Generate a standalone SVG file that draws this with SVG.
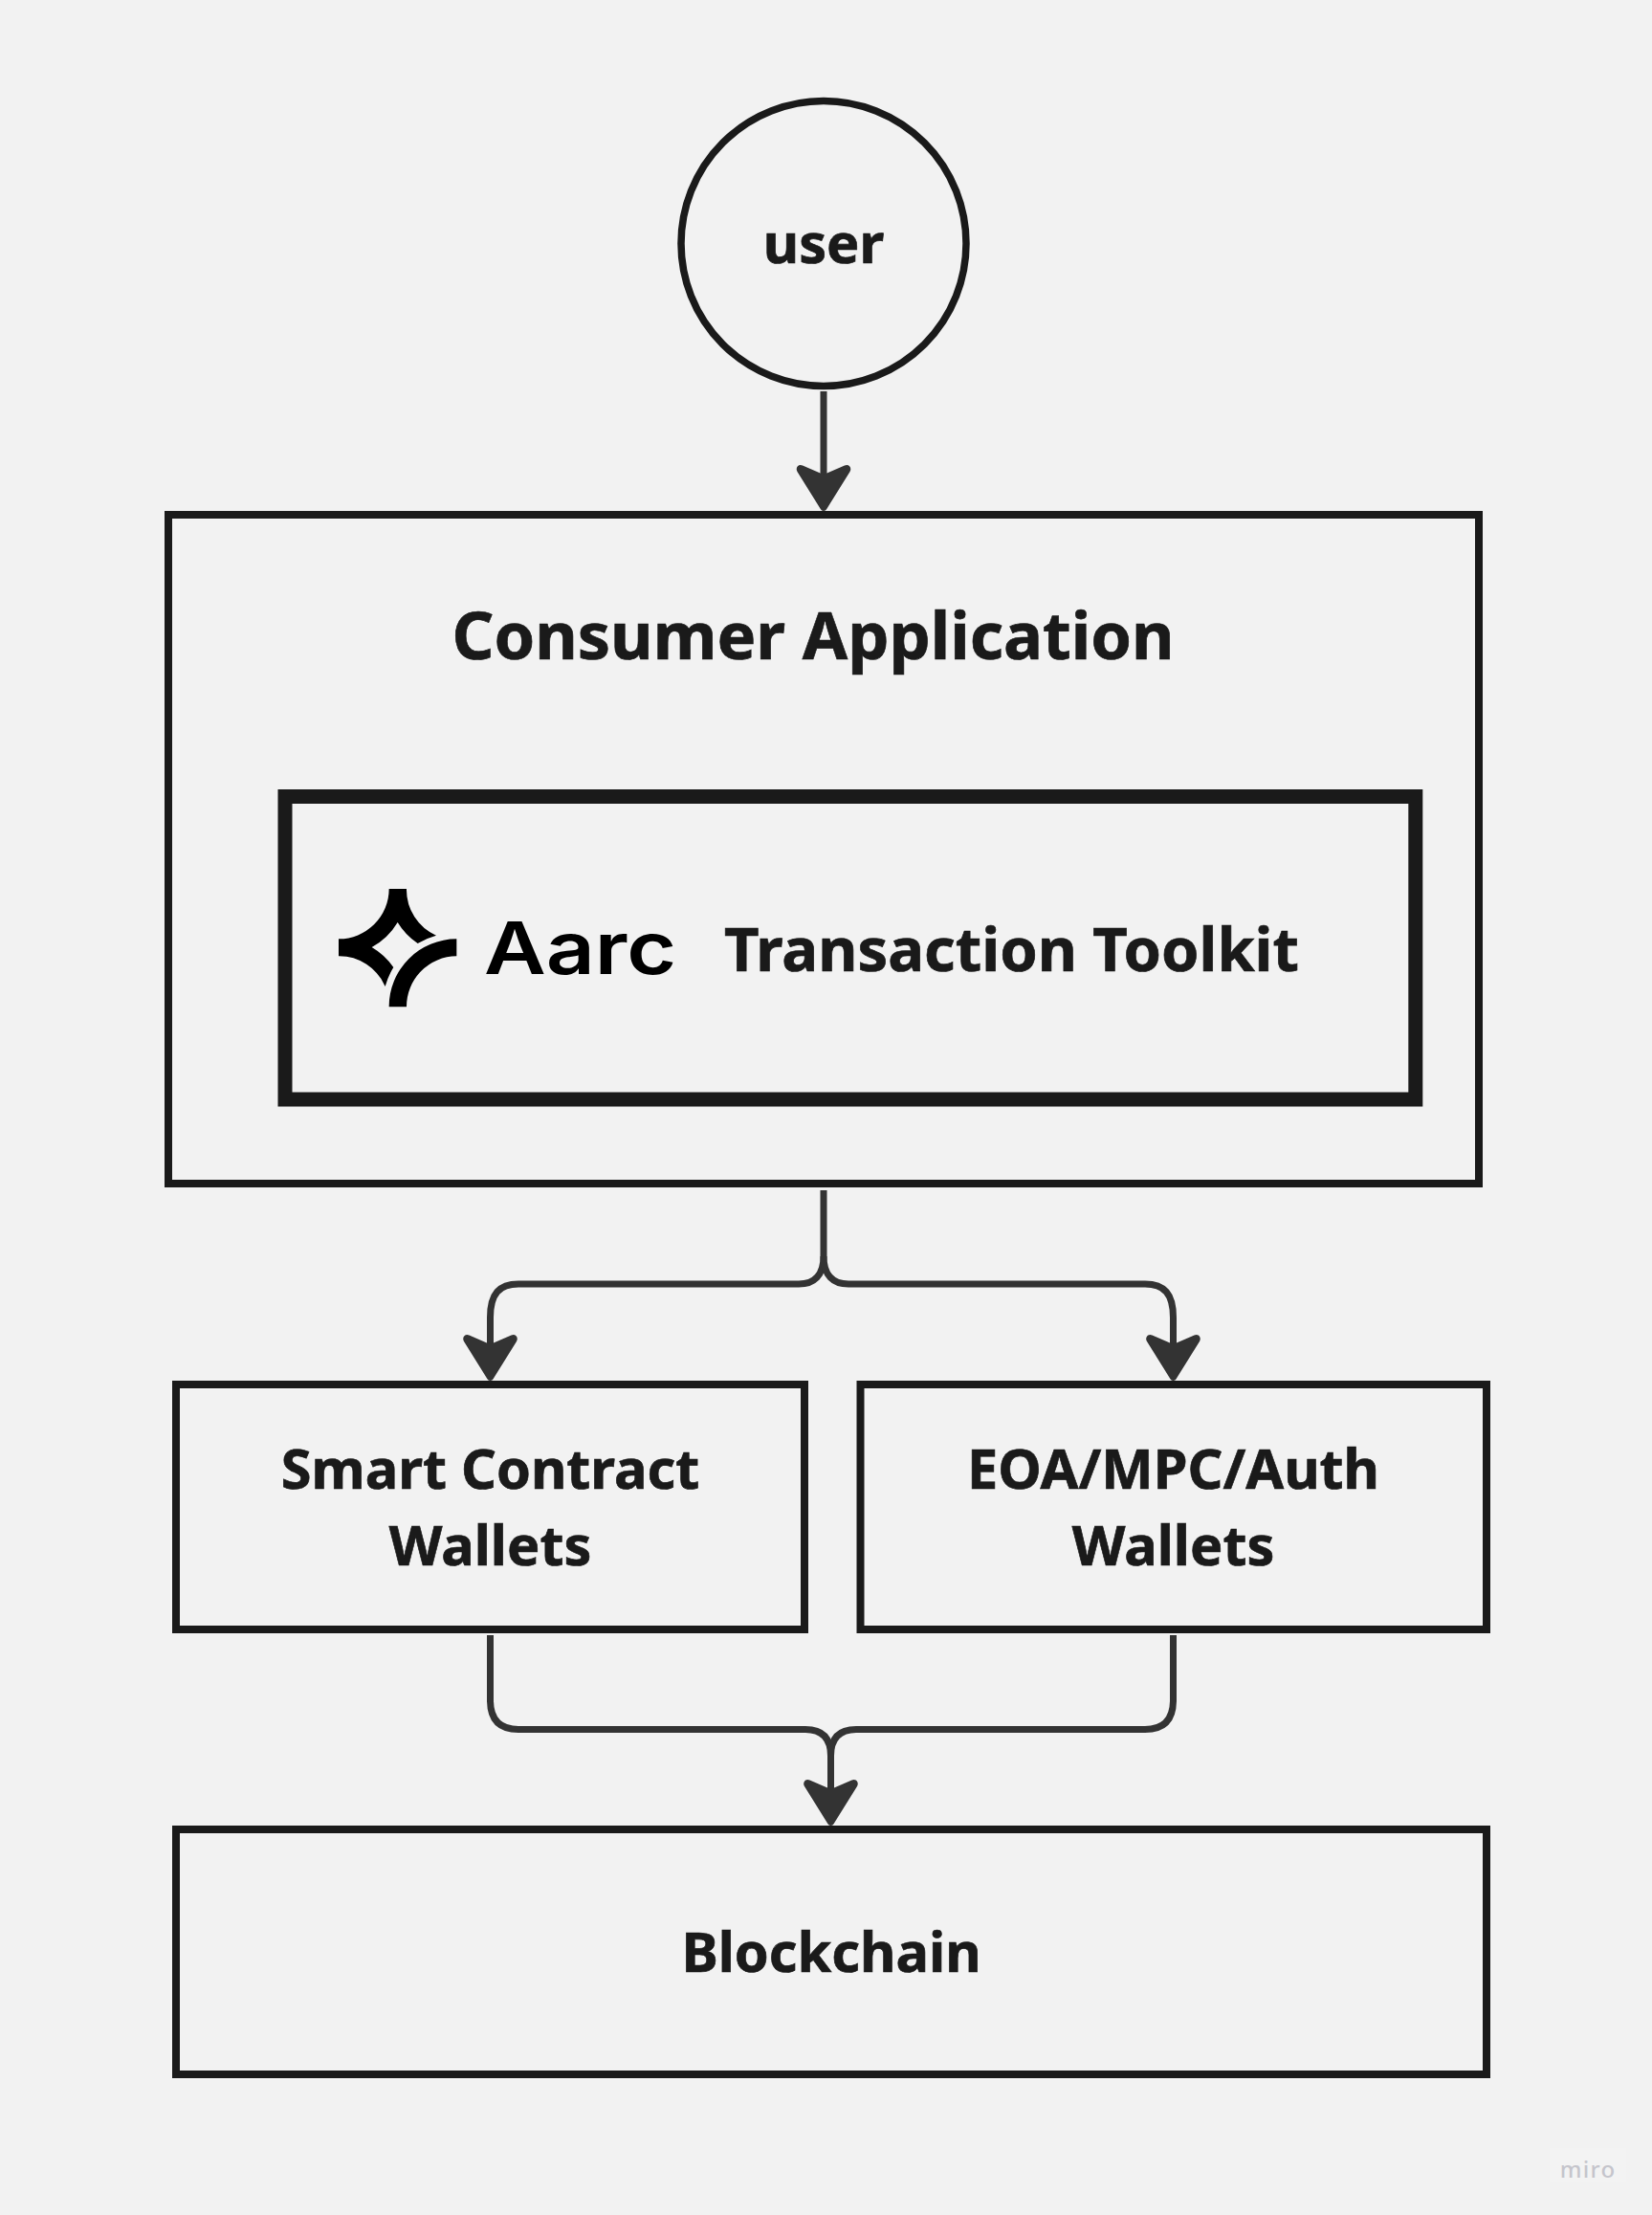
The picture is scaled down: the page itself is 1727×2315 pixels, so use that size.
<svg xmlns="http://www.w3.org/2000/svg" width="1727" height="2315" viewBox="0 0 1727 2315">
<style>
.box{fill:none;stroke:#1a1a1a;stroke-width:8}
.t{font-family:"Noto Sans","Open Sans",sans-serif;font-weight:700;fill:#1a1a1a;stroke:#1a1a1a;stroke-width:.7;text-anchor:middle}
.c{fill:none;stroke:#333;stroke-width:7}
</style>
<defs>
<path id="head" d="M0 0C-1.500 0-2.500-.8-3.200-2L-27.500-41C-30-45.500-26-49.500-22-47.500L0-38L22-47.500C26-49.500 30-45.500 27.500-41L3.200-2C2.500-.8 1.500 0 0 0Z" fill="#333"/>
</defs>
<rect width="1727" height="2315" fill="#f2f2f2"/>
<g id="connectors">
<path class="c" d="M861 409V496"/>
<use href="#head" x="861" y="534"/>
<path class="c" d="M861 1244V1313C861 1333 851 1342 835 1342H542C522 1342 512.500 1352 512.500 1377V1405"/>
<path class="c" d="M861 1313C861 1333 871 1342 887 1342H1197C1217 1342 1226.500 1352 1226.500 1377V1405"/>
<use href="#head" x="512.500" y="1443"/>
<use href="#head" x="1226.500" y="1443"/>
<path class="c" d="M512.500 1709V1777C512.500 1797 522 1807.500 542 1807.500H842C858 1807.500 868.500 1815 868.500 1835V1870"/>
<path class="c" d="M1226.500 1709V1777C1226.500 1797 1217 1807.500 1197 1807.500H895C879 1807.500 868.500 1815 868.500 1835"/>
<use href="#head" x="868.500" y="1908"/>
</g>
<g id="user"><circle cx="861" cy="254.500" r="149" fill="none" stroke="#1a1a1a" stroke-width="7.500"/><text class="t" x="861" y="274.500" font-size="57.600">user</text></g>
<g id="consumer-application"><rect class="box" x="176" y="538" width="1370" height="699"/><text class="t" x="850" y="689" font-size="68.500">Consumer Application</text></g>
<g id="aarc-toolkit">
<rect x="298" y="832.500" width="1181.800" height="316.500" fill="none" stroke="#1a1a1a" stroke-width="15"/>
<path transform="translate(320 900) scale(.33333)" fill="#000" d="M102 244A157 157 0 0 0 260 87H315A157 157 0 0 0 408 233A233 233 0 0 0 350 258A212 212 0 0 1 287 192A212 212 0 0 1 206 270A212 212 0 0 1 274 333A233 233 0 0 0 248 393A157 157 0 0 0 102 298ZM472 244V298A158 158 0 0 0 315 457H260A212 212 0 0 1 472 244Z"/>
<text x="506" y="1018.300" font-family="Inter,sans-serif" font-weight="560" font-size="76" textLength="201" lengthAdjust="spacingAndGlyphs" fill="#000">Aarc</text>
<text class="t" x="1057.500" y="1015" font-size="63.300">Transaction Toolkit</text>
</g>
<g id="smart-contract-wallets"><rect class="box" x="184" y="1447" width="657" height="256"/><text class="t" x="512.500" y="1555.500" font-size="57.600">Smart Contract</text><text class="t" x="512.500" y="1635.500" font-size="57.600">Wallets</text></g>
<g id="eoa-wallets"><rect class="box" x="899.500" y="1447" width="654.500" height="256"/><text class="t" x="1226.500" y="1555.500" font-size="57.600">EOA/MPC/Auth</text><text class="t" x="1226.500" y="1635.500" font-size="57.600">Wallets</text></g>
<g id="blockchain"><rect class="box" x="184" y="1912" width="1370" height="256"/><text class="t" x="869" y="2060.500" font-size="57.600">Blockchain</text></g>
<g id="watermark"><rect x="1620" y="2245" width="80" height="35" fill="#f3f3f3"/><text x="1660" y="2276" font-family="'Noto Sans',sans-serif" font-weight="500" font-size="24" letter-spacing="1.300" text-anchor="middle" fill="#c5c5cc">miro</text></g>
</svg>
